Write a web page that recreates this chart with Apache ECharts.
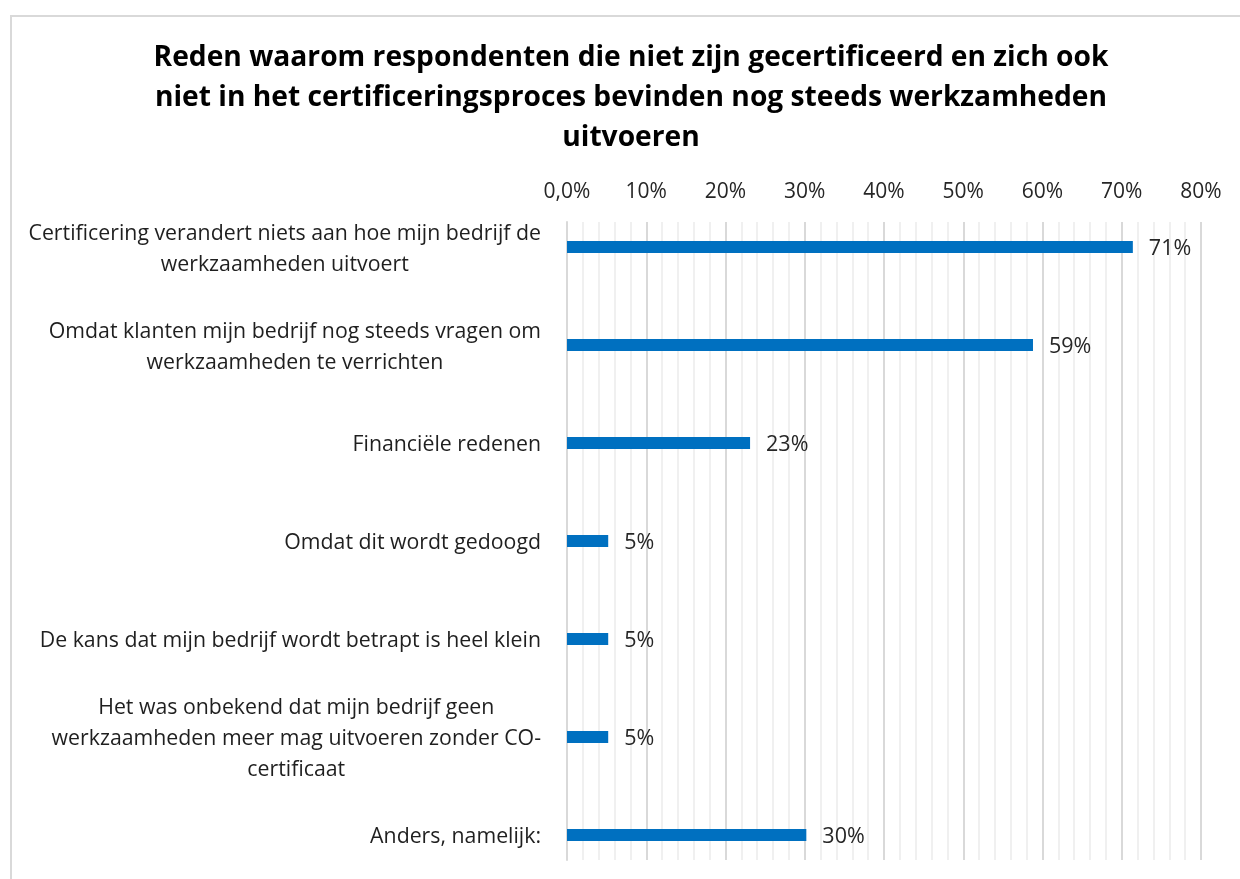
<!DOCTYPE html>
<html>
<head>
<meta charset="utf-8">
<script src="https://cdn.jsdelivr.net/npm/echarts@6/dist/echarts.min.js"></script>
<style>
  html, body { margin: 0; padding: 0; background: #fff; overflow: hidden; }
  #chart { width: 1240px; height: 879px; }
</style>
</head>
<body>
<div id="chart"></div>
<script>
const titleText = 'Reden waarom respondenten die niet zijn gecertificeerd en zich ook\nniet in het certificeringsproces bevinden nog steeds werkzamheden\nuitvoeren'

const categories = [
  'Certificering verandert niets aan hoe mijn bedrijf de\nwerkzaamheden uitvoert',
  'Omdat klanten mijn bedrijf nog steeds vragen om\nwerkzaamheden te verrichten',
  'Financiële redenen',
  'Omdat dit wordt gedoogd',
  'De kans dat mijn bedrijf wordt betrapt is heel klein',
  'Het was onbekend dat mijn bedrijf geen\nwerkzaamheden meer mag uitvoeren zonder CO-\ncertificaat',
  'Anders, namelijk:'
]
const values = [71.4, 58.8, 23.1, 5.2, 5.2, 5.2, 30.2]

const FONT = '"Open Sans", "Noto Sans", sans-serif'
const ink = '#1f1f1f'
const barBlue = '#0070c0'

// plot box in px
const left = 567
const right = 1240 - 1201
const gridTop = 222
const gridHeight = 638
const barTop = 198
const barHeight = 686

const chart = echarts.init(document.getElementById('chart'), null, { renderer: 'canvas' })

chart.setOption({
  animation: false,
  backgroundColor: '#fff',
  textStyle: { fontFamily: FONT },
  title: {
    text: titleText,
    left: 631,
    top: 38,
    padding: 0,
    textAlign: 'center',
    textStyle: { fontFamily: FONT, fontSize: 28.2, fontWeight: 'bold', color: '#000', lineHeight: 40 }
  },
  graphic: [{
    type: 'rect',
    silent: true,
    shape: { x: 11, y: 16, width: 1300, height: 950 },
    style: { fill: 'none', stroke: '#d9d9d9', lineWidth: 2 }
  }],
  grid: [
    // gridlines + top axis
    { left, right, top: gridTop, height: gridHeight, outerBoundsMode: 'none' },
    // bars (band runs a little past the canvas bottom, as in the original)
    { left, right, top: barTop, height: barHeight, outerBoundsMode: 'none' }
  ],
  xAxis: [
    {
      gridIndex: 0,
      type: 'value',
      position: 'top',
      min: 0,
      max: 80,
      interval: 10,
      axisLine: { show: false },
      axisTick: { show: false },
      axisLabel: {
        margin: 19,
        fontSize: 21,
        color: '#262626',
        fontFamily: FONT,
        formatter: v => v === 0 ? '0,0%' : v + '%'
      },
      splitLine: { show: true, lineStyle: { color: '#d9d9d9', width: 2 } },
      minorTick: { show: false, splitNumber: 5 },
      minorSplitLine: { show: true, lineStyle: { color: '#f0f0f0', width: 2 } }
    },
    {
      gridIndex: 1,
      type: 'value',
      min: 0,
      max: 80,
      show: false
    }
  ],
  yAxis: [
    {
      gridIndex: 0,
      type: 'category',
      data: categories,
      inverse: true,
      axisLine: { show: true, lineStyle: { color: '#d9d9d9', width: 2 } },
      axisTick: { show: false },
      axisLabel: { show: false },
      splitLine: { show: false }
    },
    {
      gridIndex: 1,
      type: 'category',
      data: categories,
      inverse: true,
      axisLine: { show: false },
      axisTick: { show: false },
      axisLabel: {
        margin: 26,
        align: 'right',
        padding: [4, 0, 0, 0],
        formatter: s => s.split('\n').map(l => '{c|' + l + '}').join('\n'),
        rich: {
          c: { align: 'center', fontSize: 21.3, lineHeight: 31, color: ink, fontFamily: FONT }
        }
      }
    }
  ],
  series: [{
    type: 'bar',
    xAxisIndex: 1,
    yAxisIndex: 1,
    data: values,
    barWidth: 12,
    itemStyle: { color: barBlue },
    label: {
      show: true,
      position: 'right',
      distance: 16,
      offset: [0, 2],
      fontSize: 21.5,
      color: '#262626',
      fontFamily: FONT,
      formatter: p => Math.round(p.value) + '%'
    }
  }]
})
</script>
</body>
</html>
